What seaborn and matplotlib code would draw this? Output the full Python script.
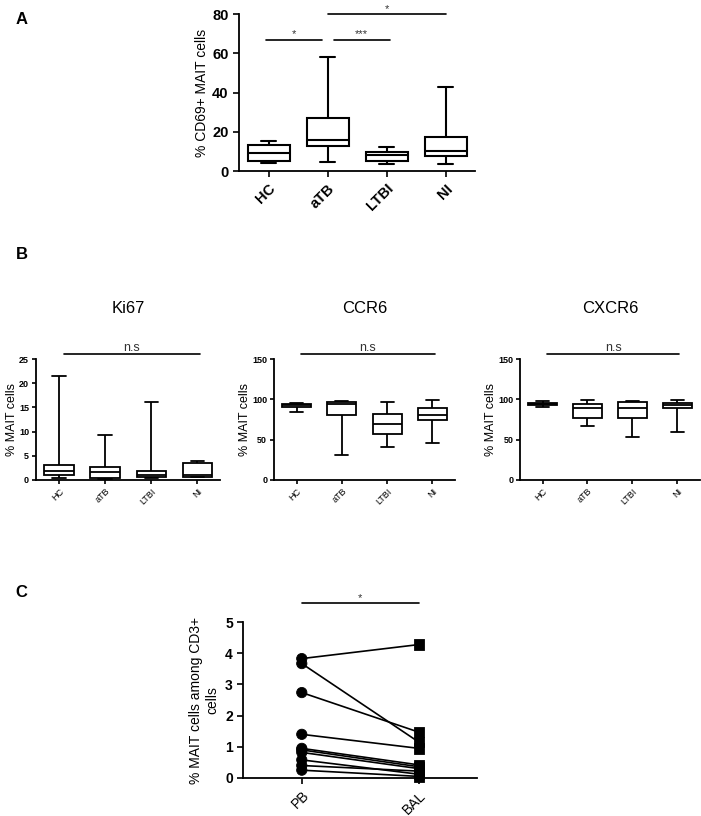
import numpy as np
import pandas as pd
import matplotlib
matplotlib.use("Agg")
import matplotlib.pyplot as plt
import seaborn as sns

# ---------------- data ----------------
groups = ["HC", "aTB", "LTBI", "NI"]
# five-number summaries (min, Q1, median, Q3, max)
cd69_HC = [3.9, 4.9, 9.0, 13.1, 15.5]
cd69_aTB = [4.6, 12.8, 16.0, 27.2, 57.9]
cd69_LTBI = [3.6, 4.9, 8.2, 9.9, 12.1]
cd69_NI = [3.7, 7.8, 10.0, 17.4, 42.9]

ki67_HC = [0.3, 1.0, 1.9, 3.0, 21.4]
ki67_aTB = [0.2, 0.35, 1.6, 2.6, 9.3]
ki67_LTBI = [0.3, 0.55, 1.0, 1.9, 16.2]
ki67_NI = [0.5, 0.6, 0.9, 3.5, 3.8]

ccr6_HC = [84.1, 90.8, 92.4, 94.5, 95.3]
ccr6_aTB = [30.3, 80.4, 94.5, 96.6, 97.8]
ccr6_LTBI = [40.6, 57.2, 69.2, 81.2, 96.6]
ccr6_NI = [46.0, 73.8, 80.8, 89.5, 98.6]

cxcr6_HC = [90.8, 92.8, 94.1, 94.9, 97.8]
cxcr6_aTB = [66.7, 77.1, 88.7, 93.7, 99.0]
cxcr6_LTBI = [53.0, 76.3, 89.1, 96.6, 97.8]
cxcr6_NI = [59.7, 88.7, 92.4, 95.3, 99.0]

sites = ["PB", "BAL"]
pb_values = [3.83, 3.67, 2.74, 1.40, 0.95, 0.90, 0.82, 0.58, 0.40, 0.25]
bal_values = [4.28, 1.15, 1.47, 0.95, 0.42, 0.36, 0.30, 0.12, 0.22, 0.05]

# ---------------- style ----------------
sns.set_theme(style="ticks")
plt.rcParams["font.family"] = ["Liberation Sans", "DejaVu Sans"]
plt.rcParams["axes.linewidth"] = 1.3
plt.rcParams["xtick.major.width"] = 1.2
plt.rcParams["ytick.major.width"] = 1.2
plt.rcParams["xtick.major.size"] = 4
plt.rcParams["ytick.major.size"] = 4
for k in ["text.color", "axes.labelcolor", "xtick.color", "ytick.color", "axes.edgecolor"]:
    plt.rcParams[k] = "black"

fig = plt.figure(figsize=(7.01, 8.16), dpi=100)


def long_df(series_list):
    rows = []
    for g, vals in zip(groups, series_list):
        for v in vals:
            rows.append({"group": g, "value": v})
    return pd.DataFrame(rows)


def draw_box(ax, series_list, width, capw, lw):
    df = long_df(series_list)
    sns.boxplot(data=df, x="group", y="value", order=groups, ax=ax,
                whis=(0, 100), width=width, color="white", linecolor="black",
                linewidth=lw, showfliers=False, capwidths=capw)
    for p in ax.patches:
        p.set_facecolor("white")
    ax.set_xlim(-0.5, 3.5)
    sns.despine(ax=ax)


def sig(ax, x0, x1, y, text, fs):
    ax.plot([x0, x1], [y, y], color="black", lw=1.2, clip_on=False)
    ax.text((x0 + x1) / 2, y, text, ha="center", va="bottom", fontsize=fs,
            color="#333333")


# ---------------- Panel A ----------------
axA = fig.add_axes([0.341, 0.7904, 0.337, 0.1924])
draw_box(axA, [cd69_HC, cd69_aTB, cd69_LTBI, cd69_NI], 0.71, 0.25, 1.5)
axA.set_ylim(0, 80)
axA.set_yticks([0, 20, 40, 60, 80])
axA.set_ylabel("% CD69+ MAIT cells", fontsize=10, labelpad=2)
axA.set_xlabel("")
for lab in axA.get_yticklabels():
    lab.set_fontweight("bold")
    lab.set_fontsize(10.5)
axA.set_xticks(range(len(groups)))
axA.set_xticklabels(groups, rotation=45, ha="right", rotation_mode="anchor",
                    fontsize=10.5, fontweight="bold")
sig(axA, -0.05, 0.9, 67, "*", 8)
sig(axA, 1.1, 2.05, 67, "***", 8)
sig(axA, 1.0, 3.0, 80, "*", 8)
fig.text(0.022, 0.985, "A", fontsize=12, fontweight="bold", va="top")

# ---------------- Panel B ----------------
panelB = [
    ("Ki67", [ki67_HC, ki67_aTB, ki67_LTBI, ki67_NI], (0, 25), [0, 5, 10, 15, 20, 25], 0.0514, 0.263),
    ("CCR6", [ccr6_HC, ccr6_aTB, ccr6_LTBI, ccr6_NI], (0, 150), [0, 50, 100, 150], 0.391, 0.258),
    ("CXCR6", [cxcr6_HC, cxcr6_aTB, cxcr6_LTBI, cxcr6_NI], (0, 150), [0, 50, 100, 150], 0.742, 0.256),
]
for title, ser, ylim, yt, left, w in panelB:
    ax = fig.add_axes([left, 0.412, w, 0.148])
    draw_box(ax, ser, 0.64, 0.29, 1.3)
    ax.set_ylim(*ylim)
    ax.set_yticks(yt)
    ax.set_ylabel("% MAIT cells", fontsize=9, labelpad=1)
    ax.set_xlabel("")
    ax.tick_params(length=3, pad=2)
    for lab in ax.get_yticklabels():
        lab.set_fontweight("bold")
        lab.set_fontsize(6.5)
    ax.set_xticks(range(len(groups)))
    ax.set_xticklabels(groups, rotation=45, ha="right", rotation_mode="anchor",
                       fontsize=6.5)
    top = ylim[1] * 1.04
    sig(ax, 0.1, 3.05, top, "n.s", 9)
    ax.set_title(title, fontsize=12, pad=33)

fig.text(0.022, 0.697, "B", fontsize=12, fontweight="bold", va="top")

# ---------------- Panel C ----------------
axC = fig.add_axes([0.347, 0.0466, 0.334, 0.191])
rows = []
for i, (p, b) in enumerate(zip(pb_values, bal_values)):
    rows.append({"subject": i, "site": sites[0], "x": sites.index(sites[0]), "value": p})
    rows.append({"subject": i, "site": sites[1], "x": sites.index(sites[1]), "value": b})
dfC = pd.DataFrame(rows)
sns.lineplot(data=dfC, x="x", y="value", units="subject", estimator=None,
             color="black", lw=1.2, ax=axC, legend=False)
sns.scatterplot(data=dfC, x="x", y="value", style="site",
                markers={"PB": "o", "BAL": "s"}, color="black", s=55,
                edgecolor="black", ax=axC, legend=False, zorder=3, clip_on=False)
axC.set_xlim(-0.5, 1.5)
axC.set_ylim(0, 5)
axC.set_yticks([0, 1, 2, 3, 4, 5])
axC.set_xticks(range(len(sites)))
axC.set_xticklabels(sites, rotation=45, ha="right", rotation_mode="anchor",
                    fontsize=10)
for lab in axC.get_yticklabels():
    lab.set_fontweight("bold")
    lab.set_fontsize(10)
axC.set_xlabel("")
axC.set_ylabel("% MAIT cells among CD3+\ncells", fontsize=10)
sns.despine(ax=axC)
sig(axC, 0, 1, 5.6, "*", 8)
fig.text(0.022, 0.283, "C", fontsize=12, fontweight="bold", va="top")

fig.savefig("out.png", dpi=100)
